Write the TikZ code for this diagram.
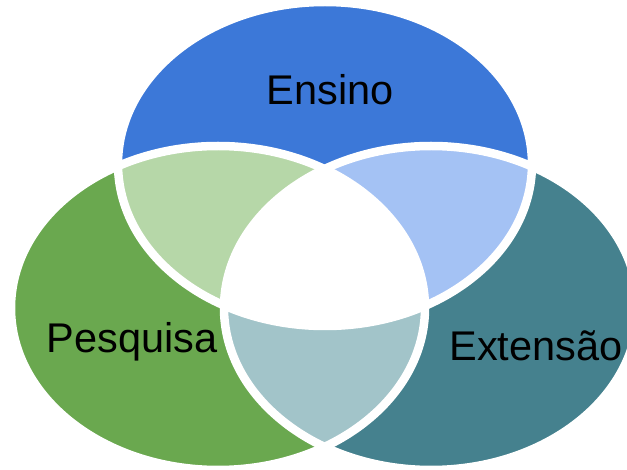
\documentclass[tikz,border=0pt]{standalone}
\usepackage{fontspec}
\setmainfont{Liberation Sans}
\definecolor{ensblue}{HTML}{3C78D8}
\definecolor{pesgreen}{HTML}{6AA84F}
\definecolor{extteal}{HTML}{45818E}
\definecolor{lightblue}{HTML}{A4C2F4}
\definecolor{lightgreen}{HTML}{B6D7A8}
\definecolor{lightteal}{HTML}{A2C4C9}
\tikzset{
    oval/.style={x radius=207pt, y radius=162pt}, % size of each set
    gap/.style={draw=white, line width=8.5pt}, % white gaps between the regions
    label/.style={font=\fontsize{41.5}{48}\selectfont, anchor=base},
}

\begin{document}
\begin{tikzpicture}[x=1pt, y=-1pt]
    \useasboundingbox (0,0) rectangle (627,470);
    \clip (0,0) rectangle (627,470);
    \coordinate (ens) at (325,164);
    \coordinate (pes) at (218,308);
    \coordinate (ext) at (431,308);
    % the three sets
    \fill[ensblue] (ens) ellipse[oval];
    \fill[pesgreen] (pes) ellipse[oval];
    \fill[extteal] (ext) ellipse[oval];
    % pairwise overlaps
    \begin{scope}
        \clip (ens) ellipse[oval];
        \fill[lightgreen] (pes) ellipse[oval];
        \fill[lightblue] (ext) ellipse[oval];
    \end{scope}
    \begin{scope}
        \clip (pes) ellipse[oval];
        \fill[lightteal] (ext) ellipse[oval];
    \end{scope}
    % centre
    \begin{scope}
        \clip (ens) ellipse[oval];
        \clip (pes) ellipse[oval];
        \fill[white] (ext) ellipse[oval];
    \end{scope}
    \draw[gap] (ens) ellipse[oval];
    \draw[gap] (pes) ellipse[oval];
    \draw[gap] (ext) ellipse[oval];
    \node[label] (ensino) at (330,105) {Ensino};
    \node[label] (pesquisa) at (132,353) {Pesquisa};
    \node[label] (extensao) at (536,361) {Extensão};
\end{tikzpicture}
\end{document}
